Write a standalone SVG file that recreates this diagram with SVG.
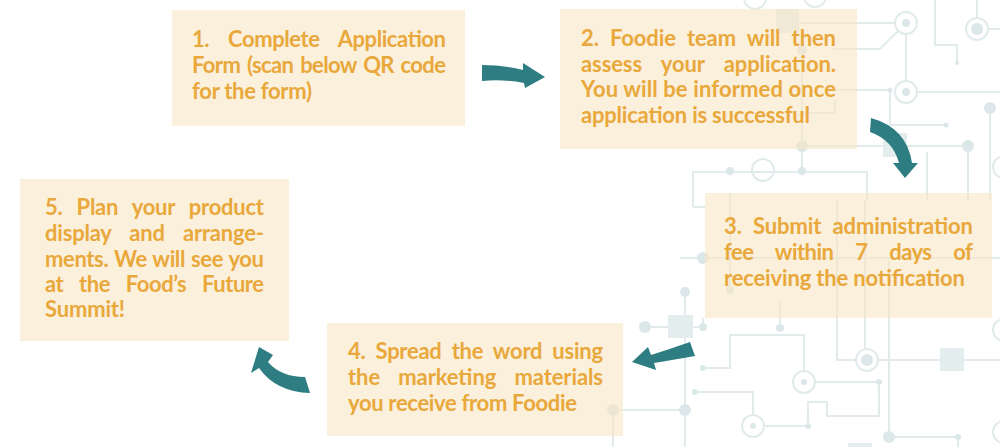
<svg xmlns="http://www.w3.org/2000/svg" width="1000" height="447" viewBox="0 0 1000 447">
<style>
.c{fill:none;stroke:#e2ebec;stroke-width:2}
.r{fill:none;stroke:#e2ebec;stroke-width:2}
.d{fill:#dce7e9}
.sq{fill:#e4edee}
.box{fill:#f8e6c5;fill-opacity:0.6}
.t{font-family:Lato,"Liberation Sans",sans-serif;font-weight:700;font-size:22px;fill:#e9a83b}
.arr{fill:#2e7d82}
</style>
<rect x="0" y="0" width="1000" height="447" fill="#ffffff"/>
<g id="circuit">
<path class="c" d="M799,23 H895 M898,31 L880,49 H833 M906,34 V81 M917,92 H1000 M833,90 H890 V125 H946 M935,0 V45 H957 V63 M977,0 V18 M988,29 H1000 M990,108 V200 M802,146 H968 V200 M927,152 V200 M693,207 V172 H867 V200 M802,33 V172 M802,113 H835 V100"/>
<path class="c" d="M693,207 H705 M730,193 V290 M680,258 H1000 M685,292 V447 M645,327 H703 V318 M613,447 V410 H685 M780,300 V328 M703,368 H730 V335 H804 V371 M815,382 H879 V416 H827 V402 H808 V426 M695,392 H753 V415 M764,426 H808 M837,200 V360 H856 M878,360 H1000 M865,200 V349 M889,260 V437 H958 V447"/>
<g class="r">
<circle cx="906" cy="23" r="11"/><circle cx="906" cy="92" r="11"/><circle cx="977" cy="29" r="11"/>
<circle cx="763" cy="170" r="11"/><circle cx="755" cy="-2" r="11"/><circle cx="815" cy="-4" r="11"/>
<circle cx="1004" cy="167" r="11"/><circle cx="804" cy="382" r="11"/><circle cx="753" cy="426" r="11"/>
<circle cx="867" cy="360" r="11"/><circle cx="1004" cy="330" r="11"/><circle cx="1004" cy="432" r="11"/>
</g>
<g class="d">
<circle cx="906" cy="23" r="4"/><circle cx="906" cy="92" r="4"/><circle cx="977" cy="29" r="6"/>
<circle cx="890" cy="90" r="2.5"/><circle cx="946" cy="125" r="2.5"/><circle cx="957" cy="63" r="2"/>
<circle cx="990" cy="108" r="6"/><circle cx="968" cy="146" r="6"/><circle cx="802" cy="146" r="6"/>
<circle cx="802" cy="50" r="5"/><circle cx="802" cy="171" r="4"/><circle cx="730" cy="171" r="4"/>
<circle cx="685" cy="292" r="5"/><circle cx="685" cy="410" r="6"/><circle cx="645" cy="327" r="6"/>
<circle cx="703" cy="327" r="4"/><circle cx="613" cy="410" r="6"/><circle cx="780" cy="328" r="4"/>
<circle cx="703" cy="368" r="3"/><circle cx="879" cy="382" r="3"/><circle cx="808" cy="426" r="3"/>
<circle cx="695" cy="392" r="3"/><circle cx="730" cy="290" r="4"/><circle cx="703" cy="258" r="6"/>
<circle cx="867" cy="360" r="6"/><circle cx="889" cy="437" r="6"/><circle cx="958" cy="437" r="3"/>
<circle cx="804" cy="382" r="3"/><circle cx="753" cy="426" r="3"/>
</g>
<rect class="sq" x="776" y="9" width="23" height="24"/>
<rect class="sq" x="883" y="133" width="24" height="24"/>
<rect class="sq" x="668" y="315" width="25" height="23"/>
<rect class="sq" x="940" y="348" width="24" height="23"/>
<rect class="sq" x="848" y="443" width="24" height="10"/>
</g>
<g id="step1">
<rect class="box" x="172" y="10" width="293" height="116"/>
<text class="t" x="192" y="47" textLength="254" lengthAdjust="spacing" word-spacing="14">1. Complete Application</text>
<text class="t" x="192" y="73" textLength="254" lengthAdjust="spacing" word-spacing="2">Form (scan below QR code</text>
<text class="t" x="192" y="99" textLength="120" lengthAdjust="spacing">for the form)</text>
</g>
<g id="step2">
<rect class="box" x="560" y="9" width="297" height="140"/>
<text class="t" x="581" y="46" textLength="255" lengthAdjust="spacing" word-spacing="6">2. Foodie team will then</text>
<text class="t" x="581" y="72" textLength="255" lengthAdjust="spacing" word-spacing="14">assess your application.</text>
<text class="t" x="581" y="97" textLength="255" lengthAdjust="spacing" word-spacing="0">You will be informed once</text>
<text class="t" x="581" y="123" textLength="229" lengthAdjust="spacing">application is successful</text>
</g>
<g id="step3">
<rect class="box" x="705" y="193" width="287" height="125"/>
<text class="t" x="724" y="234" textLength="249" lengthAdjust="spacing" word-spacing="6">3. Submit administration</text>
<text class="t" x="724" y="260" textLength="249" lengthAdjust="spacing" word-spacing="17">fee within 7 days of</text>
<text class="t" x="724" y="286" textLength="241" lengthAdjust="spacing">receiving the notification</text>
</g>
<g id="step4">
<rect class="box" x="327" y="323" width="296" height="113"/>
<text class="t" x="348" y="359" textLength="255" lengthAdjust="spacing" word-spacing="5">4. Spread the word using</text>
<text class="t" x="348" y="385" textLength="255" lengthAdjust="spacing" word-spacing="13">the marketing materials</text>
<text class="t" x="348" y="411" textLength="229" lengthAdjust="spacing">you receive from Foodie</text>
</g>
<g id="step5">
<rect class="box" x="20" y="179" width="269" height="162"/>
<text class="t" x="45" y="215" textLength="219" lengthAdjust="spacing" word-spacing="9">5. Plan your product</text>
<text class="t" x="45" y="241" textLength="219" lengthAdjust="spacing" word-spacing="13">display and arrange-</text>
<text class="t" x="45" y="267" textLength="219" lengthAdjust="spacing" word-spacing="1">ments. We will see you</text>
<text class="t" x="45" y="292" textLength="219" lengthAdjust="spacing" word-spacing="11">at the Food’s Future</text>
<text class="t" x="45" y="317" textLength="80" lengthAdjust="spacing">Summit!</text>
</g>
<g id="connectors">
<path class="arr" d="M482,65 Q503,65 523,70 L523,63 L545,77 L525,88 L524,83 Q503,79 482,81 Z"/>
<path class="arr" d="M871,118 Q907,128 912,163 L918,163 L905,178 L893,163 L899,163 Q893,140 870,132 Z"/>
<path class="arr" d="M690,342 L695,356 Q672,360 654,363 L656,370 L632,362 L648,347 L651,355 Q670,349 690,342 Z"/>
<path class="arr" d="M305,377 Q281,377 268,362 L273,355 L259,347 L251,373 L259,368 Q276,392 310,393 Z"/>
</g>
</svg>
